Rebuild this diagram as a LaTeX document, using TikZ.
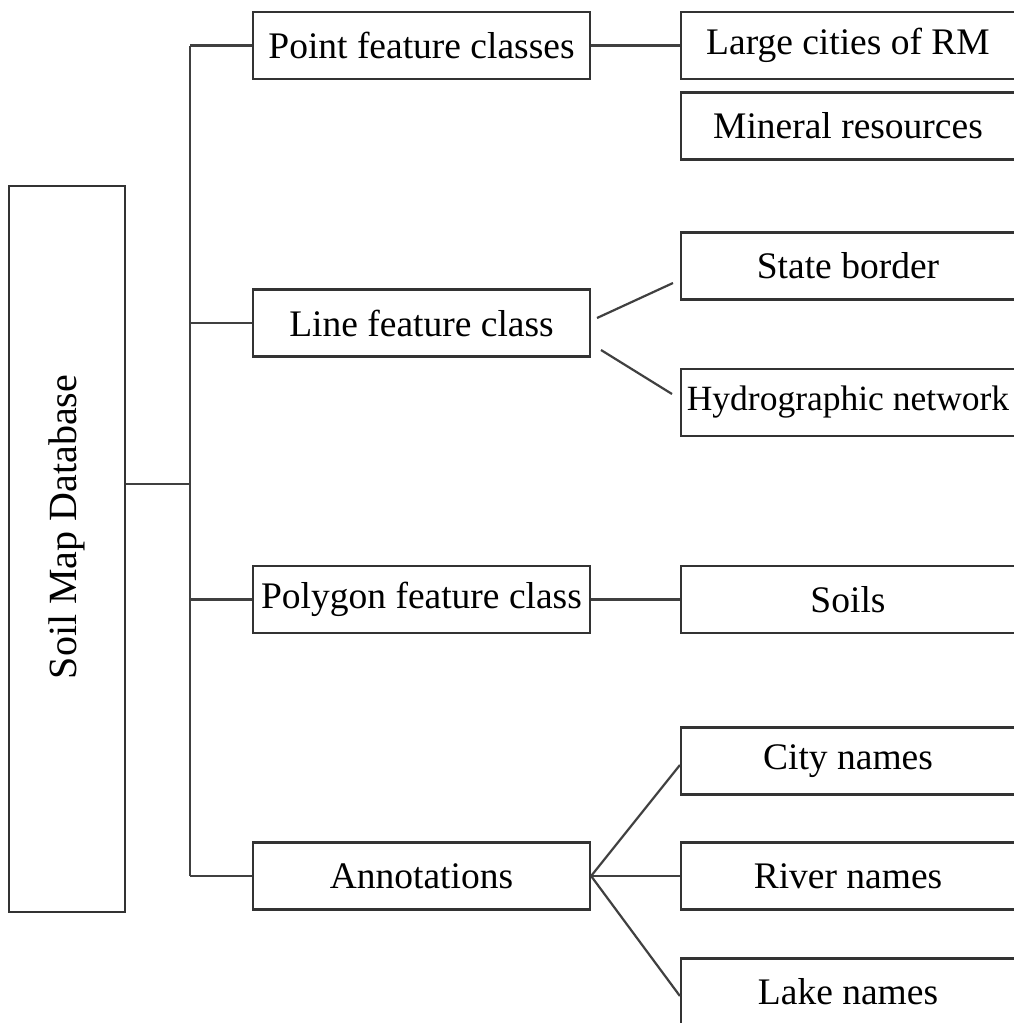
\documentclass[tikz,border=0pt]{standalone}
\usepackage{fontspec}
\setmainfont{Liberation Serif}
\usetikzlibrary{positioning}
\tikzset{
  base/.style={rectangle, draw=black!80, line width=2.2pt, inner sep=0pt, align=center,
    font=\fontsize{37.5}{42}\selectfont},
  db/.style={base, minimum width=116, minimum height=726},
  group/.style={base, minimum width=337, minimum height=67},
  leaf/.style={base, minimum width=334, minimum height=67},
  link/.style={draw=black!75, line width=2.2pt},
}
\begin{document}
\begin{tikzpicture}[x=1pt, y=-1pt]
  \useasboundingbox (0,0) rectangle (1014,1023);

  % ---------------- root ----------------
  \node[db] (soil) at (67,549) {};
  \node[rotate=90, font=\fontsize{40}{44}\selectfont] (soiltxt) at (67,527) {Soil Map Database};

  % ---------------- feature classes ----------------
  \node[group] (point) at (421.5,45.5) {Point feature classes};
  \node[group] (line) at (421.5,323) {Line feature class};
  \node[group] (poly) at (421.5,599.5) {Polygon feature class};
  \node[group] (annot) at (421.5,876) {Annotations};

  % ---------------- layers ----------------
  \node[leaf] (cities) at (848,45.5) {Large cities of RM};
  \node[leaf] (mineral) at (848,126) {Mineral resources};
  \node[leaf] (border) at (848,266) {State border};
  \node[leaf, font=\fontsize{35.5}{42}\selectfont] (hydro) at (848,402.5) {Hydrographic network};
  \node[leaf] (soils) at (848,599.5) {Soils};
  \node[leaf] (citynm) at (848,761) {City names};
  \node[leaf] (rivernm) at (848,876) {River names};
  \node[leaf] (lakenm) at (848,992) {Lake names};

  % ---------------- tree ----------------
  \coordinate (trunk) at (190,484);
  \coordinate (top) at (190,45.5);
  \coordinate (bot) at (190,876);
  \draw[link] (soil.east |- trunk) -- (trunk);
  \draw[link] (top) -- (bot);
  \foreach \n in {point, line, poly, annot}
    \draw[link] (top |- \n.west) -- (\n.west);

  \draw[link] (point.east) -- (cities.west);
  \draw[link] (poly.east) -- (soils.west);

  \coordinate (l1) at (597,318);  \coordinate (b1) at (673,283);
  \coordinate (l2) at (601,350);  \coordinate (h1) at (672,394);
  \draw[link] (l1) -- (b1);
  \draw[link] (l2) -- (h1);

  \draw[link] (annot.east) -- (citynm.west |- 0,765);
  \draw[link] (annot.east) -- (rivernm.west);
  \draw[link] (annot.east) -- (lakenm.west |- 0,996);
\end{tikzpicture}
\end{document}
